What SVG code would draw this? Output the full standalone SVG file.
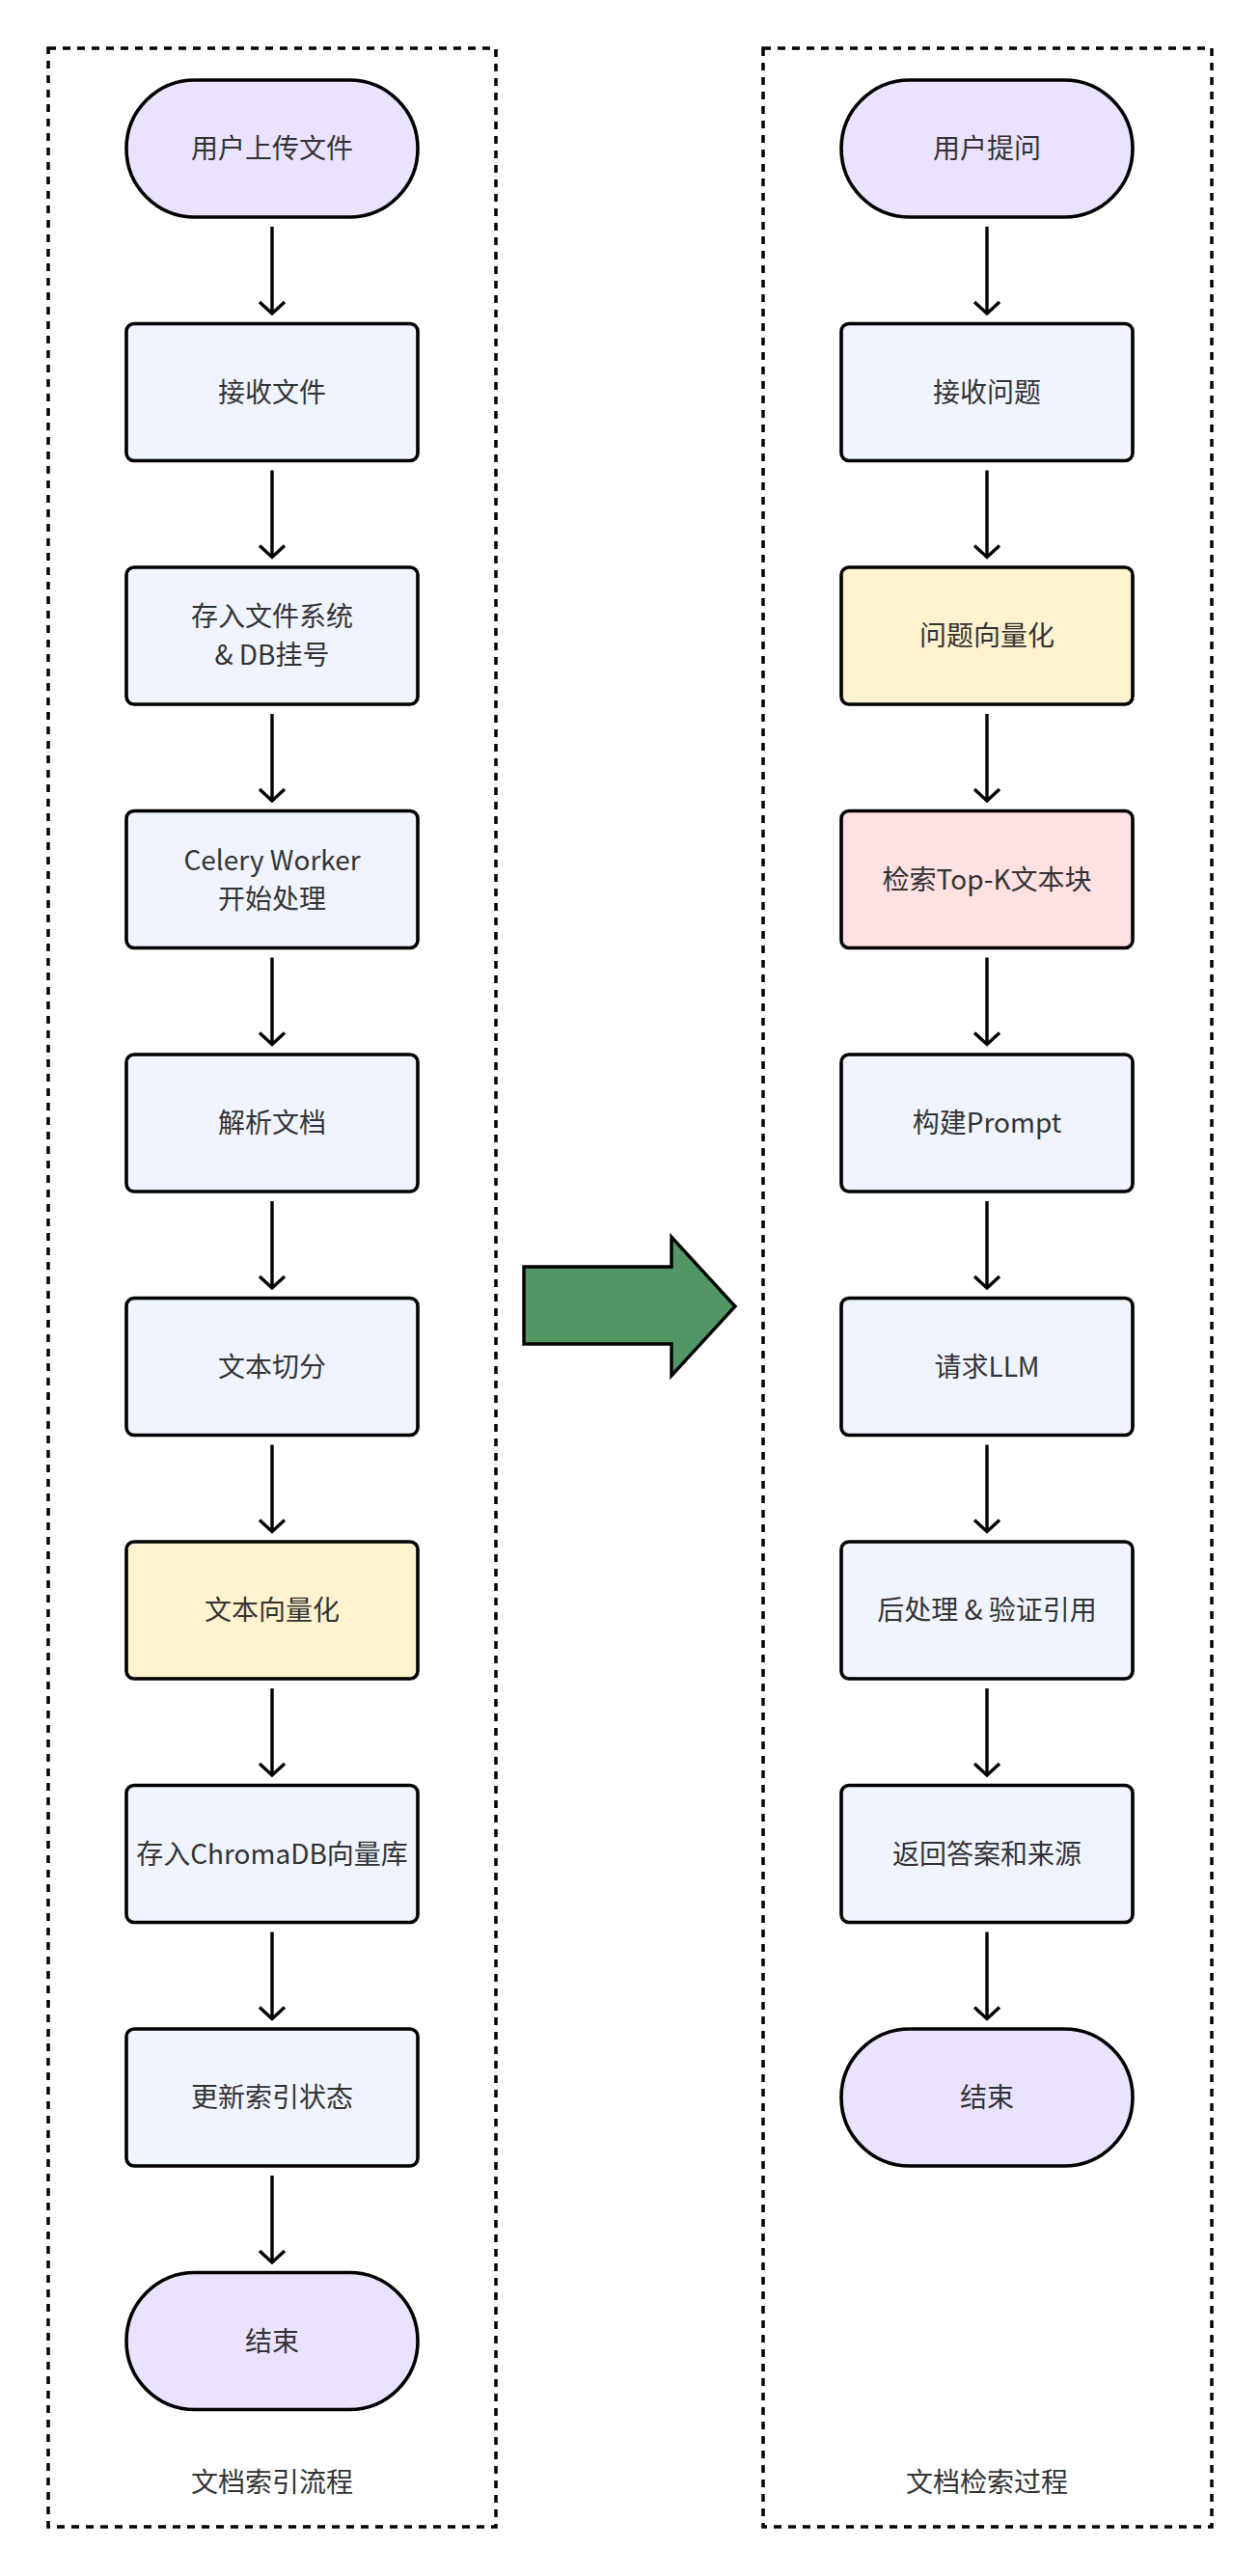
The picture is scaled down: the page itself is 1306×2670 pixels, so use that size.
<svg xmlns="http://www.w3.org/2000/svg" width="1306" height="2670" viewBox="0 0 1306 2670">
<style>
.box{stroke:#000;stroke-width:3.6}
.std{fill:#F0F4FE}
.lav{fill:#EAE2FE}
.yel{fill:#FFF2CE}
.pnk{fill:#FFE1E1}
.t{font-family:"Noto Sans CJK SC","Noto Sans",sans-serif;font-size:28px;fill:#333;text-anchor:middle}
.cont{fill:none;stroke:#000;stroke-width:3.5;stroke-dasharray:8 7}
.edge{stroke:#000;stroke-width:3.4;fill:none}
</style>
<defs>
<marker id="ah" viewBox="0 0 16 30" refX="14" refY="15" markerWidth="16" markerHeight="30" markerUnits="userSpaceOnUse" orient="auto">
<path d="M2,2 L14,15 L2,28" fill="none" stroke="#000" stroke-width="3.4"/>
</marker>
</defs>
<rect width="1306" height="2670" fill="#fff"/>
<g id="container-left">
<rect class="cont" x="50" y="50" width="464" height="2569"/>
<text class="t" x="282" y="2583">文档索引流程</text>
</g>
<g id="container-right">
<rect class="cont" x="791" y="50" width="465" height="2569"/>
<text class="t" x="1023" y="2583">文档检索过程</text>
</g>
<g id="big-arrow">
<polygon points="543,1313 696,1313 696,1282 762,1354 696,1426 696,1393 543,1393" fill="#519664" stroke="#000" stroke-width="3.4" stroke-linejoin="miter"/>
</g>
<g id="connectors">
<line class="edge" x1="282" y1="235" x2="282" y2="325" marker-end="url(#ah)"/>
<line class="edge" x1="282" y1="487.5" x2="282" y2="577.5" marker-end="url(#ah)"/>
<line class="edge" x1="282" y1="740" x2="282" y2="830" marker-end="url(#ah)"/>
<line class="edge" x1="282" y1="992.5" x2="282" y2="1082.5" marker-end="url(#ah)"/>
<line class="edge" x1="282" y1="1245" x2="282" y2="1335" marker-end="url(#ah)"/>
<line class="edge" x1="282" y1="1497.5" x2="282" y2="1587.5" marker-end="url(#ah)"/>
<line class="edge" x1="282" y1="1750" x2="282" y2="1840" marker-end="url(#ah)"/>
<line class="edge" x1="282" y1="2002.5" x2="282" y2="2092.5" marker-end="url(#ah)"/>
<line class="edge" x1="282" y1="2255" x2="282" y2="2345" marker-end="url(#ah)"/>
<line class="edge" x1="1023" y1="235" x2="1023" y2="325" marker-end="url(#ah)"/>
<line class="edge" x1="1023" y1="487.5" x2="1023" y2="577.5" marker-end="url(#ah)"/>
<line class="edge" x1="1023" y1="740" x2="1023" y2="830" marker-end="url(#ah)"/>
<line class="edge" x1="1023" y1="992.5" x2="1023" y2="1082.5" marker-end="url(#ah)"/>
<line class="edge" x1="1023" y1="1245" x2="1023" y2="1335" marker-end="url(#ah)"/>
<line class="edge" x1="1023" y1="1497.5" x2="1023" y2="1587.5" marker-end="url(#ah)"/>
<line class="edge" x1="1023" y1="1750" x2="1023" y2="1840" marker-end="url(#ah)"/>
<line class="edge" x1="1023" y1="2002.5" x2="1023" y2="2092.5" marker-end="url(#ah)"/>
</g>
<g id="L0"><rect class="box lav" x="131" y="83" width="302" height="142" rx="71"/><text class="t" x="282" y="164">用户上传文件</text></g>
<g id="L1"><rect class="box std" x="131" y="335.5" width="302" height="142" rx="8"/><text class="t" x="282" y="416.5">接收文件</text></g>
<g id="L2"><rect class="box std" x="131" y="588" width="302" height="142" rx="8"/><text class="t" x="282" y="649">存入文件系统</text><text class="t" x="282" y="689">&amp; DB挂号</text></g>
<g id="L3"><rect class="box std" x="131" y="840.5" width="302" height="142" rx="8"/><text class="t" x="282" y="901.5">Celery Worker</text><text class="t" x="282" y="941.5">开始处理</text></g>
<g id="L4"><rect class="box std" x="131" y="1093" width="302" height="142" rx="8"/><text class="t" x="282" y="1174">解析文档</text></g>
<g id="L5"><rect class="box std" x="131" y="1345.5" width="302" height="142" rx="8"/><text class="t" x="282" y="1426.5">文本切分</text></g>
<g id="L6"><rect class="box yel" x="131" y="1598" width="302" height="142" rx="8"/><text class="t" x="282" y="1679">文本向量化</text></g>
<g id="L7"><rect class="box std" x="131" y="1850.5" width="302" height="142" rx="8"/><text class="t" x="282" y="1931.5">存入ChromaDB向量库</text></g>
<g id="L8"><rect class="box std" x="131" y="2103" width="302" height="142" rx="8"/><text class="t" x="282" y="2184">更新索引状态</text></g>
<g id="L9"><rect class="box lav" x="131" y="2355.5" width="302" height="142" rx="71"/><text class="t" x="282" y="2436.5">结束</text></g>
<g id="R0"><rect class="box lav" x="872" y="83" width="302" height="142" rx="71"/><text class="t" x="1023" y="164">用户提问</text></g>
<g id="R1"><rect class="box std" x="872" y="335.5" width="302" height="142" rx="8"/><text class="t" x="1023" y="416.5">接收问题</text></g>
<g id="R2"><rect class="box yel" x="872" y="588" width="302" height="142" rx="8"/><text class="t" x="1023" y="669">问题向量化</text></g>
<g id="R3"><rect class="box pnk" x="872" y="840.5" width="302" height="142" rx="8"/><text class="t" x="1023" y="921.5">检索Top-K文本块</text></g>
<g id="R4"><rect class="box std" x="872" y="1093" width="302" height="142" rx="8"/><text class="t" x="1023" y="1174">构建Prompt</text></g>
<g id="R5"><rect class="box std" x="872" y="1345.5" width="302" height="142" rx="8"/><text class="t" x="1023" y="1426.5">请求LLM</text></g>
<g id="R6"><rect class="box std" x="872" y="1598" width="302" height="142" rx="8"/><text class="t" x="1023" y="1679">后处理 &amp; 验证引用</text></g>
<g id="R7"><rect class="box std" x="872" y="1850.5" width="302" height="142" rx="8"/><text class="t" x="1023" y="1931.5">返回答案和来源</text></g>
<g id="R8"><rect class="box lav" x="872" y="2103" width="302" height="142" rx="71"/><text class="t" x="1023" y="2184">结束</text></g>
</svg>
